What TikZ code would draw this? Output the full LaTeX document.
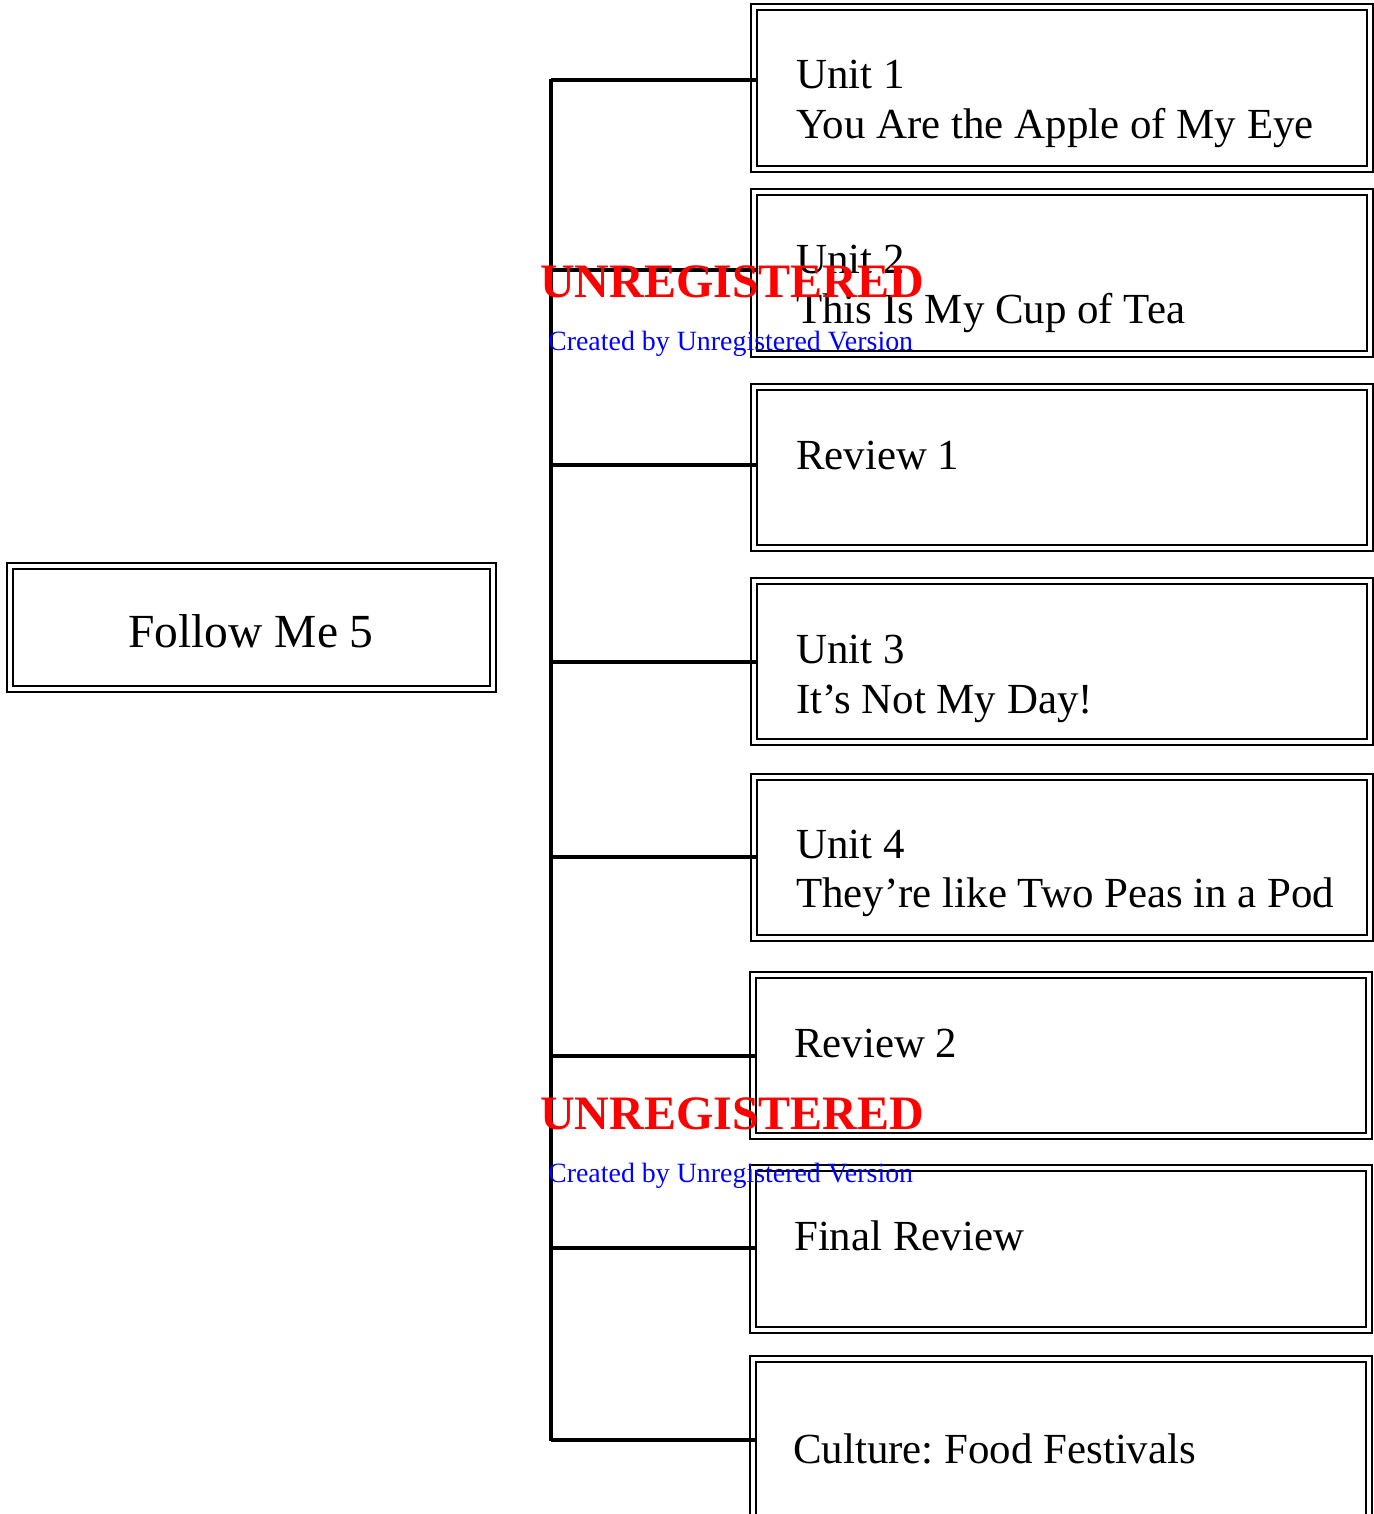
\documentclass[tikz,border=0pt]{standalone}
\usepackage{fontspec}
\setmainfont{Liberation Serif}
\frenchspacing
\begin{document}
\begin{tikzpicture}[x=1pt,y=-1pt,
  innerbox/.style={draw=black,line width=2.5pt,rectangle,inner sep=0pt,fill=none},
  outerline/.style={draw=black,line width=1.8pt},
  conn/.style={draw=black,line width=3.3pt},
  lbl/.style={anchor=base west,inner sep=0pt,font=\fontsize{42.9}{50}\selectfont},
  wmred/.style={anchor=base west,inner sep=0pt,text={rgb,255:red,255;green,0;blue,0},font=\fontsize{48}{56}\selectfont\bfseries},
  wmblue/.style={anchor=base west,inner sep=0pt,text={rgb,255:red,0;green,0;blue,255},font=\fontsize{27.9}{34}\selectfont}]
\useasboundingbox (0,0) rectangle (1373,1514);
% boxes: outer (l,t,r,b); inner = inset 5
\newcommand{\mkbox}[5]{%
  \node[innerbox,minimum width={#4-#2-10},minimum height={#5-#3-10}] (#1) at ({(#2+#4)/2},{(#3+#5)/2}) {};
  \draw[outerline] ([xshift=-5pt,yshift=5pt]#1.north west) rectangle ([xshift=5pt,yshift=-5pt]#1.south east);}
\mkbox{root}{8}{564}{495}{691}
\mkbox{b1}{752}{5}{1372}{171}
\mkbox{b2}{752}{190}{1372}{356}
\mkbox{b3}{752}{385}{1372}{550}
\mkbox{b4}{752}{579}{1372}{744}
\mkbox{b5}{752}{775}{1372}{940}
\mkbox{b6}{751}{973}{1371}{1138}
\mkbox{b7}{751}{1166}{1371}{1332}
\mkbox{b8}{751}{1357}{1371}{1523}
% texts
\node[anchor=base,inner sep=0pt,font=\fontsize{47.5}{56}\selectfont] (rt) at (251,647) {Follow Me 5};
\node[lbl] (t1a) at (796,89) {Unit 1};
\node[lbl] (t1b) at (796,139) {You Are the Apple of My Eye};
\node[lbl] (t2a) at (796,273) {Unit 2};
\node[lbl] (t2b) at (796,323) {This Is My Cup of Tea};
\node[lbl] (t3a) at (796,469) {Review 1};
\node[lbl] (t4a) at (796,663) {Unit 3};
\node[lbl] (t4b) at (796,713) {It’s Not My Day!};
\node[lbl] (t5a) at (796,858) {Unit 4};
\node[lbl] (t5b) at (796,907) {They’re like Two Peas in a Pod};
\node[lbl] (t6a) at (794,1057) {Review 2};
\node[lbl] (t7a) at (794,1250) {Final Review};
\node[lbl] (t8a) at (793,1463) {Culture: Food Festivals};
% trunk and branches
\coordinate (top) at (551,79);
\coordinate (bot) at (551,1441);
\draw[conn] (top) -- (bot);
\coordinate (j1) at (551,80);
\coordinate (j2) at (551,270);
\coordinate (j3) at (551,465);
\coordinate (j4) at (551,662);
\coordinate (j5) at (551,857);
\coordinate (j6) at (551,1056);
\coordinate (j7) at (551,1248);
\coordinate (j8) at (551,1440);
\foreach \i in {1,...,8}{\draw[conn] (j\i) -- (j\i -| b\i.west);}
% watermarks
\node[wmred] (w1) at (540,297) {UNREGISTERED};
\node[wmblue] (w2) at (548,350) {Created by Unregistered Version};
\node[wmred] (w3) at (540,1129) {UNREGISTERED};
\node[wmblue] (w4) at (548,1182) {Created by Unregistered Version};
\end{tikzpicture}
\end{document}
